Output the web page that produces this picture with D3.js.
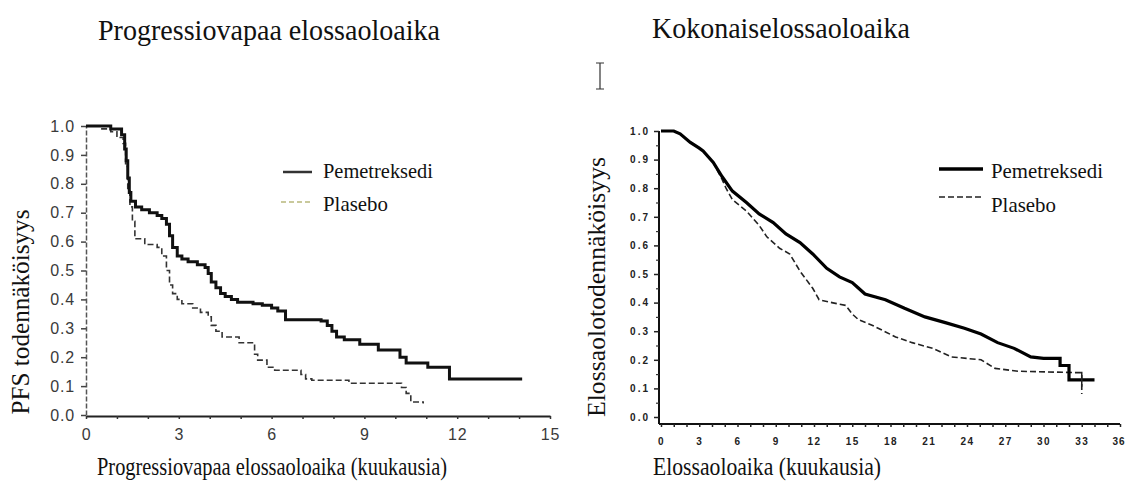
<!DOCTYPE html>
<html>
<head>
<meta charset="utf-8">
<script src="https://cdn.jsdelivr.net/npm/d3@7"></script>
<style>
  body { margin: 0; background: #fff; }
  svg { display: block; }
  .serif { font-family: "Liberation Serif", "Times New Roman", serif; fill: #111; }
</style>
</head>
<body>
<div id="chart"></div>
<script>
// PFS (left) - Kaplan-Meier steps
var pfsPemeT = [0, 0.8, 1.15, 1.25, 1.3, 1.35, 1.4, 1.45, 1.6, 1.8, 2.05, 2.3, 2.45, 2.6, 2.7, 2.8, 2.95, 3.1, 3.3, 3.6, 3.85, 3.95, 4.05, 4.2, 4.35, 4.5, 4.7, 4.9, 5.4, 5.7, 6.0, 6.2, 6.45, 7.6, 7.8, 7.95, 8.1, 8.35, 8.85, 9.45, 10.15, 10.35, 11.05, 11.75, 14.1];
var pfsPemeS = [1.0, 0.99, 0.97, 0.92, 0.88, 0.82, 0.77, 0.74, 0.72, 0.71, 0.70, 0.69, 0.68, 0.66, 0.62, 0.58, 0.55, 0.54, 0.53, 0.52, 0.51, 0.49, 0.46, 0.44, 0.42, 0.41, 0.40, 0.39, 0.385, 0.38, 0.37, 0.36, 0.33, 0.325, 0.31, 0.29, 0.27, 0.26, 0.245, 0.225, 0.20, 0.18, 0.165, 0.125, 0.125];
var pfsPlaT = [0, 0.45, 0.8, 1.0, 1.2, 1.28, 1.35, 1.42, 1.5, 1.58, 1.9, 2.3, 2.45, 2.6, 2.7, 2.8, 2.95, 3.1, 3.45, 3.7, 3.95, 4.05, 4.2, 4.4, 4.95, 5.45, 5.55, 5.85, 6.1, 6.95, 7.1, 7.3, 8.5, 10.2, 10.35, 10.5, 10.9];
var pfsPlaS = [1.0, 0.99, 0.98, 0.96, 0.94, 0.86, 0.78, 0.72, 0.67, 0.61, 0.59, 0.58, 0.55, 0.50, 0.45, 0.42, 0.40, 0.385, 0.37, 0.355, 0.34, 0.31, 0.29, 0.27, 0.25, 0.21, 0.19, 0.165, 0.155, 0.14, 0.125, 0.12, 0.11, 0.095, 0.075, 0.045, 0.04];

// OS (right)
var osPemeT = [0, 1.0, 1.5, 2.3, 3.0, 3.3, 4.1, 4.8, 5.6, 6.7, 7.7, 8.8, 9.8, 10.9, 11.9, 13.0, 14.0, 15.0, 15.5, 16.0, 17.6, 19.1, 20.7, 22.3, 23.8, 25.1, 26.4, 27.7, 29.0, 30.0, 31.3, 31.3, 32.0, 32.0, 34.0];
var osPemeS = [1.0, 1.0, 0.99, 0.96, 0.94, 0.93, 0.89, 0.84, 0.79, 0.75, 0.71, 0.68, 0.64, 0.61, 0.57, 0.52, 0.49, 0.47, 0.45, 0.43, 0.41, 0.38, 0.35, 0.33, 0.31, 0.29, 0.26, 0.24, 0.21, 0.205, 0.205, 0.18, 0.18, 0.13, 0.13];
var osPlaT = [0, 1.0, 1.5, 2.3, 3.0, 3.3, 4.1, 4.8, 5.1, 5.6, 6.7, 7.7, 8.3, 9.3, 10.1, 10.9, 11.9, 12.4, 13.4, 14.5, 15.0, 15.5, 16.6, 18.4, 19.7, 21.3, 22.8, 25.1, 26.2, 28.0, 32.7, 33.0, 33.0];
var osPlaS = [1.0, 1.0, 0.99, 0.96, 0.94, 0.93, 0.89, 0.83, 0.80, 0.76, 0.72, 0.67, 0.63, 0.59, 0.57, 0.51, 0.45, 0.41, 0.40, 0.39, 0.36, 0.34, 0.32, 0.28, 0.26, 0.24, 0.21, 0.20, 0.17, 0.16, 0.155, 0.155, 0.08];
var osCensorT = [33.0];
var osCensorS = [0.13];

var seriesNames = ["Pemetreksedi", "Plasebo"];
var yTicks = [0, 0.1, 0.2, 0.3, 0.4, 0.5, 0.6, 0.7, 0.8, 0.9, 1.0];

var width = 1126, height = 482;

var svg = d3.select("#chart").append("svg")
  .attr("width", width)
  .attr("height", height);

function pts(t, s) {
  return t.map(function(d, i) { return [d, s[i]]; });
}

// serif text with fixed drawn width
function label(x, y, txt, size, len, rot) {
  var t = svg.append("text")
    .attr("class", "serif")
    .attr("font-size", size)
    .attr("textLength", len)
    .attr("lengthAdjust", "spacingAndGlyphs")
    .text(txt);
  if (rot) {
    t.attr("text-anchor", "middle")
      .attr("transform", "translate(" + x + "," + y + ") rotate(-90)");
  } else {
    t.attr("x", x).attr("y", y);
  }
  return t;
}

//////// left chart
var xL = d3.scaleLinear().domain([0, 15]).range([86, 550]);
var yL = d3.scaleLinear().domain([0, 1]).range([415, 126]);

var axL = svg.append("g")
  .attr("transform", "translate(" + xL(0) + ",0)")
  .call(d3.axisLeft(yL).tickValues(yTicks).tickFormat(d3.format(".1f")).tickSize(5).tickSizeOuter(0).tickPadding(6));
axL.select(".domain").attr("stroke", "#555").attr("stroke-width", 1.5).attr("stroke-dasharray", "5,2");
axL.selectAll(".tick line").attr("stroke", "#444").attr("stroke-width", 1.5);
axL.selectAll(".tick text")
  .attr("font-family", "Liberation Sans, Arial, sans-serif")
  .attr("font-size", 16).attr("fill", "#3a3a3a").attr("letter-spacing", 0.8);

var bxL = svg.append("g")
  .attr("transform", "translate(0," + 416 + ")")
  .call(d3.axisBottom(xL).tickValues(d3.range(0, 16)).tickFormat(function(d) { return d % 3 === 0 ? d : ""; }).tickSize(3).tickSizeOuter(0).tickPadding(10));
bxL.select(".domain").attr("stroke", "#222").attr("stroke-width", 2);
bxL.selectAll(".tick line").attr("stroke", "#333").attr("stroke-width", 1.5);
bxL.selectAll(".tick text")
  .attr("font-family", "Liberation Sans, Arial, sans-serif")
  .attr("font-size", 16).attr("fill", "#3a3a3a").attr("letter-spacing", 0.8);

var stepL = d3.line()
  .x(function(d) { return xL(d[0]); })
  .y(function(d) { return yL(d[1]); })
  .curve(d3.curveStepAfter);

svg.append("path")
  .datum(pts(pfsPlaT, pfsPlaS))
  .attr("fill", "none").attr("stroke", "#333").attr("stroke-width", 1.6)
  .attr("stroke-dasharray", "6,3")
  .attr("d", stepL);

svg.append("path")
  .datum(pts(pfsPemeT, pfsPemeS))
  .attr("fill", "none").attr("stroke", "#111").attr("stroke-width", 3)
  .attr("d", stepL);

// left legend
svg.append("line").attr("x1", 283).attr("x2", 312).attr("y1", 172).attr("y2", 172)
  .attr("stroke", "#333").attr("stroke-width", 2.5);
svg.append("line").attr("x1", 281).attr("x2", 312).attr("y1", 202).attr("y2", 202)
  .attr("stroke", "#c9c99c").attr("stroke-width", 2).attr("stroke-dasharray", "5,3");
label(323, 178, seriesNames[0], 22, 110);
label(323, 211, seriesNames[1], 22, 65);

label(98, 40, "Progressiovapaa elossaoloaika", 29, 342);
label(97, 475, "Progressiovapaa elossaoloaika (kuukausia)", 25, 350);
label(29, 312, "PFS todennäköisyys", 25, 205, true);

//////// right chart
var xR = d3.scaleLinear().domain([0, 36]).range([661, 1120]);
var yR = d3.scaleLinear().domain([0, 1]).range([417, 131]);

var axR = svg.append("g")
  .attr("transform", "translate(659,0)")
  .call(d3.axisLeft(yR).tickValues(yTicks).tickFormat(d3.format(".1f")).tickSize(5).tickSizeOuter(0).tickPadding(4));
axR.select(".domain").attr("stroke", "#111").attr("stroke-width", 2).attr("d", "M0," + yR(1) + "V424");
axR.selectAll(".tick line").attr("stroke", "#222").attr("stroke-width", 1.5);
axR.selectAll(".tick text")
  .attr("font-family", "Liberation Sans, Arial, sans-serif").attr("font-weight", "bold")
  .attr("font-size", 10).attr("fill", "#222").attr("letter-spacing", 2);

var minorR = svg.append("g")
  .attr("transform", "translate(659,0)")
  .call(d3.axisLeft(yR).tickValues(d3.range(0.05, 1, 0.1)).tickFormat("").tickSize(3).tickSizeOuter(0));
minorR.select(".domain").remove();
minorR.selectAll(".tick line").attr("stroke", "#333").attr("stroke-width", 1.2);

var bxR = svg.append("g")
  .attr("transform", "translate(0,424)")
  .call(d3.axisBottom(xR).tickValues(d3.range(0, 37)).tickFormat(function(d) { return d % 3 === 0 ? d : ""; }).tickSize(3).tickSizeOuter(0).tickPadding(11));
bxR.select(".domain").attr("stroke", "#111").attr("stroke-width", 2).attr("d", "M659,0H1120");
bxR.selectAll(".tick line").attr("stroke", "#222").attr("stroke-width", 1.5);
bxR.selectAll(".tick text")
  .attr("font-family", "Liberation Sans, Arial, sans-serif").attr("font-weight", "bold")
  .attr("font-size", 10).attr("fill", "#222").attr("letter-spacing", 1.5);
// last label sits against the right edge
bxR.selectAll(".tick text").filter(function(d) { return d === 36; })
  .attr("text-anchor", "end").attr("x", 5).attr("letter-spacing", 1);

var lineR = d3.line()
  .x(function(d) { return xR(d[0]); })
  .y(function(d) { return yR(d[1]); });

svg.append("path")
  .datum(pts(osPlaT, osPlaS))
  .attr("fill", "none").attr("stroke", "#222").attr("stroke-width", 1.6)
  .attr("stroke-dasharray", "6,3")
  .attr("d", lineR);

svg.append("path")
  .datum(pts(osPemeT, osPemeS))
  .attr("fill", "none").attr("stroke", "#000").attr("stroke-width", 3.2)
  .attr("d", lineR);

// censor mark
svg.selectAll(".censor")
  .data(pts(osCensorT, osCensorS))
  .enter().append("line")
  .attr("class", "censor")
  .attr("x1", function(d) { return xR(d[0]); })
  .attr("x2", function(d) { return xR(d[0]); })
  .attr("y1", function(d) { return yR(d[1]) - 8; })
  .attr("y2", function(d) { return yR(d[1]) + 7; })
  .attr("stroke", "#222").attr("stroke-width", 1.5);

// right legend
svg.append("line").attr("x1", 939).attr("x2", 983).attr("y1", 169).attr("y2", 169)
  .attr("stroke", "#000").attr("stroke-width", 3.5);
svg.append("line").attr("x1", 939).attr("x2", 983).attr("y1", 197).attr("y2", 197)
  .attr("stroke", "#222").attr("stroke-width", 1.5).attr("stroke-dasharray", "6,3");
label(991, 178, seriesNames[0], 22, 112);
label(991, 212, seriesNames[1], 22, 65);

label(652, 38, "Kokonaiselossaoloaika", 29, 258);
label(653, 475, "Elossaoloaika (kuukausia)", 25, 228);
label(605, 287, "Elossaolotodennäköisyys", 25, 260, true);

// text cursor left in the screenshot
svg.append("path")
  .attr("d", "M596,63H604M600,63V89M596,89H604")
  .attr("fill", "none").attr("stroke", "#333").attr("stroke-width", 1.2);
</script>
</body>
</html>
